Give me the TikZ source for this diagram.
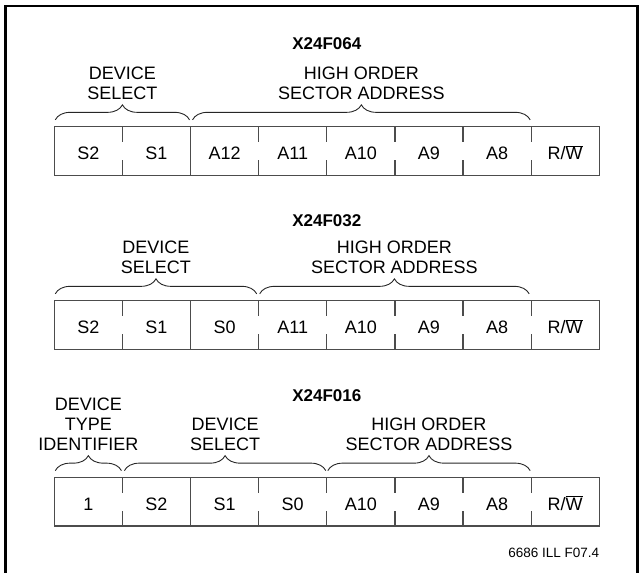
\documentclass[tikz,border=0pt]{standalone}
\usepackage{fontspec}
\setmainfont{Liberation Sans}
\usetikzlibrary{positioning, decorations.pathreplacing}

\newcommand{\rwbar}{R/$\overline{\mbox{W}}$}

\begin{document}
\begin{tikzpicture}[x=1pt,y=1pt,node distance=68.125pt,on grid,
    cell/.style={minimum width=68.125pt,minimum height=48.3pt,inner sep=0pt,outer sep=0pt,
      text height=17pt,text depth=0pt,font=\fontsize{18}{20}\selectfont},
    grp/.style={align=center,inner sep=0pt,text depth=0pt,font=\fontsize{18}{20}\selectfont},
    chip/.style={inner sep=0pt,text depth=0pt,font=\fontsize{17}{20}\selectfont\bfseries},
    box/.style={draw=black!70,line width=1.2pt},
    brace/.style={decorate,decoration={brace,amplitude=15pt},draw=black!85,line width=0.9pt}]
    \useasboundingbox (0,0) rectangle (641,573);
    % frame, open at the bottom
    \draw[line width=2.8pt,line join=miter] (5.5,-5) -- (5.5,567) -- (637.5,567) -- (637.5,-5);

    % X24F064
    \node[chip] (t_a) at (326.8,529) {X24F064};
    \node[cell] (a_1) at (88.36,422) {S2};
    \node[cell] (a_2) [right=of a_1] {S1};
    \node[cell] (a_3) [right=of a_2] {A12};
    \node[cell] (a_4) [right=of a_3] {A11};
    \node[cell] (a_5) [right=of a_4] {A10};
    \node[cell] (a_6) [right=of a_5] {A9};
    \node[cell] (a_7) [right=of a_6] {A8};
    \node[cell] (a_8) [right=of a_7] {\rwbar};
    \draw[brace] ([xshift=1pt,yshift=7pt]a_1.north west) --
      node[grp,above=19.7pt] {DEVICE\\SELECT} ([xshift=-1pt,yshift=7pt]a_2.north east);
    \draw[brace] ([xshift=2pt,yshift=7pt]a_3.north west) --
      node[grp,above=19.7pt] {HIGH ORDER\\SECTOR ADDRESS} ([xshift=-1pt,yshift=7pt]a_7.north east);

    % X24F032
    \node[chip] (t_b) at (326.8,352) {X24F032};
    \node[cell] (b_1) at (88.36,248) {S2};
    \node[cell] (b_2) [right=of b_1] {S1};
    \node[cell] (b_3) [right=of b_2] {S0};
    \node[cell] (b_4) [right=of b_3] {A11};
    \node[cell] (b_5) [right=of b_4] {A10};
    \node[cell] (b_6) [right=of b_5] {A9};
    \node[cell] (b_7) [right=of b_6] {A8};
    \node[cell] (b_8) [right=of b_7] {\rwbar};
    \draw[brace] ([xshift=1pt,yshift=7pt]b_1.north west) --
      node[grp,above=19.7pt] {DEVICE\\SELECT} ([xshift=-2pt,yshift=7pt]b_3.north east);
    \draw[brace] ([xshift=1pt,yshift=7pt]b_4.north west) --
      node[grp,above=19.7pt] {HIGH ORDER\\SECTOR ADDRESS} ([xshift=-2pt,yshift=7pt]b_7.north east);

    % X24F016
    \node[chip] (t_c) at (326.8,177) {X24F016};
    \node[cell] (c_1) at (88.36,71.2) {1};
    \node[cell] (c_2) [right=of c_1] {S2};
    \node[cell] (c_3) [right=of c_2] {S1};
    \node[cell] (c_4) [right=of c_3] {S0};
    \node[cell] (c_5) [right=of c_4] {A10};
    \node[cell] (c_6) [right=of c_5] {A9};
    \node[cell] (c_7) [right=of c_6] {A8};
    \node[cell] (c_8) [right=of c_7] {\rwbar};
    \draw[brace] ([xshift=1pt,yshift=7pt]c_1.north west) --
      node[grp,above=19.7pt] {DEVICE\\TYPE\\IDENTIFIER} ([xshift=-1pt,yshift=7pt]c_1.north east);
    \draw[brace] ([xshift=2pt,yshift=7pt]c_2.north west) --
      node[grp,above=19.7pt] {DEVICE\\SELECT} ([xshift=-1pt,yshift=7pt]c_4.north east);
    \draw[brace] ([xshift=1pt,yshift=7pt]c_5.north west) --
      node[grp,above=19.7pt] {HIGH ORDER\\SECTOR ADDRESS} ([xshift=-1pt,yshift=7pt]c_7.north east);

    % registers: outline, one full divider, the rest broken
    \foreach \r in {a,b,c} {
      \draw[box] (\r_1.north west) rectangle (\r_8.south east);
      \draw[box] (\r_2.north east) -- (\r_2.south east);
      \foreach \i in {1,3,4,5,6,7} {
        \draw[box] (\r_\i.north east) -- ++(0,-15);
        \draw[box] (\r_\i.south east) -- ++(0,15);
      }
    }

    \node[inner sep=0pt,text depth=0pt,anchor=east,font=\fontsize{13.5}{16}\selectfont] (ill)
      at (599.3,20.3) {6686 ILL F07.4};
\end{tikzpicture}
\end{document}
